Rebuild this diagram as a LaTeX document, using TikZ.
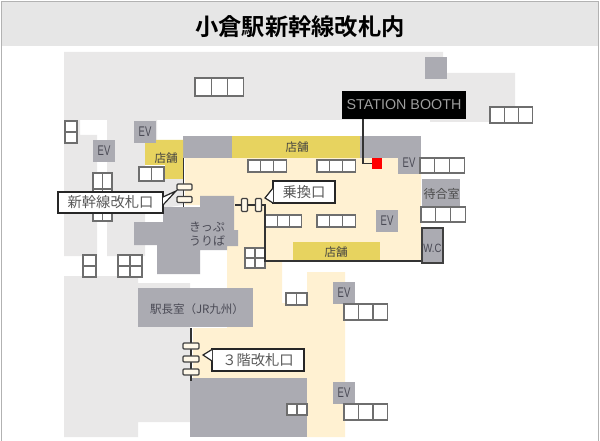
\documentclass[tikz,border=0pt]{standalone}
\usepackage{fontspec}
\setmainfont{Noto Sans CJK JP}[BoldFont={Noto Sans CJK JP Bold}]
\setsansfont{Liberation Sans}
\definecolor{lightg}{HTML}{E9E8E8}
\definecolor{titleg}{HTML}{E6E6E6}
\definecolor{roomg}{HTML}{ABABB2}
\definecolor{creamc}{HTML}{FFF1D2}
\definecolor{shopy}{HTML}{E7D35F}
\definecolor{cellg}{HTML}{6E6E6E}
\definecolor{textg}{HTML}{4A4A55}
\tikzset{
  cell/.style={draw=cellg,line width=1.1pt,fill=white},
  wall/.style={draw=black!80,line width=1.2pt},
  gatebox/.style={draw=black!75,line width=1.2pt,fill=creamc!50!white,minimum width=0pt,minimum height=0pt,inner sep=0pt,rectangle,rounded corners=1pt},
  tag/.style={draw=black!85,line width=1.2pt,fill=white,inner sep=0pt,text=black!65},
  tagtip/.style={draw=black!85,line width=1.2pt,line join=miter},
  roomtxt/.style={text=textg,font=\fontsize{11.5}{12.5}\selectfont,inner sep=0pt,align=center},
  shoptxt/.style={text=black!75,font=\fontsize{11.5}{12.5}\selectfont,inner sep=0pt},
  evtxt/.style={text=textg,font=\sffamily\fontsize{14}{14}\selectfont,inner sep=0pt},
  labtxt/.style={font=\fontsize{14.3}{15}\selectfont},
}
% x, y, cell width, cell height, columns, rows
\newcommand{\cellgrid}[6]{%
  \foreach \cc in {1,...,#5}{\foreach \rr in {1,...,#6}{%
    \draw[cell] ({#1+(\cc-1)*#3},{#2+(\rr-1)*#4}) rectangle ++(#3,#4);}}}
\newcommand{\evbox}[3]{%
  \fill[roomg] (#1,#2) rectangle ++(22,22);
  \node[evtxt] (#3) at ({#1+11},{#2+11}) {\scalebox{.68}[1]{EV}};}
% first base point, tip, second base point: white wedge open on the box side
\newcommand{\tagwedge}[3]{%
  \fill[white] #1 -- #2 -- #3 -- cycle;
  \draw[tagtip] #1 -- #2 -- #3;}
\begin{document}
\begin{tikzpicture}[x=1pt,y=-1pt]
\useasboundingbox (0,0) rectangle (600,441);
\fill[white] (0,0) rectangle (600,441);
% frame + title
\draw[draw=black!30,line width=1pt] (1.5,441) -- (1.5,1.5) -- (598.5,1.5) -- (598.5,441);
\fill[titleg] (2,2) rectangle (598,46);
\node[font=\fontsize{23.3}{25}\selectfont\bfseries,text=black,inner sep=0pt] (title) at (300,27) {小倉駅新幹線改札内};
% light grey concourse
\fill[lightg] (64,52) -- (430,52) -- (443,52) -- (443,73) -- (515,73) -- (515,122) -- (430,122) -- (430,120)
  -- (157,120) -- (157,140) -- (145,140) -- (145,256) -- (107,256) -- (107,120)
  -- (80,120) -- (80,135) -- (97,135) -- (97,256) -- (64,256) -- cycle;
\fill[lightg] (64,276) -- (138,276) -- (138,283) -- (190,283) -- (190,422) -- (138,422) -- (138,437) -- (64,437) -- cycle;
\fill[lightg] (140,181) -- (183,178) -- (183,205) -- (163,208) -- (140,208) -- cycle;
% cream public area
\fill[creamc] (185,158) -- (421,158) -- (421,261) -- (282,261) -- (282,303) -- (307,303) -- (307,272) -- (345,272) -- (345,437)
  -- (307,437) -- (307,378) -- (193,378) -- (193,328) -- (227,328) -- (227,205) -- (185,205) -- cycle;
% rooms
\fill[roomg] (183,136) rectangle (232,158);
\fill[shopy] (232,136) rectangle (360,158);
\fill[roomg] (360,136) rectangle (421,158);
\fill[shopy] (145,140) -- (183,140) -- (183,179) -- (165,179) -- (165,165) -- (145,165) -- cycle;
\fill[shopy] (293,242) rectangle (380,260);
\fill[roomg] (200,196) -- (234,196) -- (234,230) -- (238,230) -- (238,246) -- (227,246) -- (227,250) -- (200,250)
  -- (200,274) -- (157,274) -- (157,245) -- (134,245) -- (134,222) -- (163,222) -- (163,207) -- (200,207) -- cycle;
\fill[roomg] (138,288) rectangle (253,327);
\fill[roomg] (190,378) rectangle (307,437);
\fill[roomg] (425,57) rectangle (447,79);
\fill[roomg] (422,179) rectangle (460,207);
% EV
\evbox{134}{121}{ev1}
\evbox{93}{140}{ev2}
\evbox{398}{152}{ev3}
\evbox{376}{210}{ev4}
\evbox{333}{282}{ev5}
\evbox{333}{382}{ev6}
% cell groups
\cellgrid{195}{78}{16.3}{18}{3}{1}
\cellgrid{490}{107}{14.3}{16}{3}{1}
\cellgrid{420}{158}{14.7}{15}{3}{1}
\cellgrid{421}{207}{14.7}{15}{3}{1}
\cellgrid{248}{160}{12.7}{12}{3}{1}
\cellgrid{317}{160}{12.7}{12}{3}{1}
\cellgrid{265}{215}{12.3}{12}{3}{1}
\cellgrid{317}{215}{12.7}{12}{3}{1}
\cellgrid{139}{167}{12.5}{14}{2}{1}
\cellgrid{65}{121}{12}{11}{1}{2}
\cellgrid{93}{173}{9.5}{16}{2}{3}
\cellgrid{83}{255}{13}{11}{1}{2}
\cellgrid{118}{255}{12}{11}{2}{2}
\cellgrid{245}{248}{10}{10}{2}{2}
\cellgrid{286}{293}{10.5}{12}{2}{1}
\cellgrid{344}{304}{14.5}{16}{3}{1}
\cellgrid{344}{404}{14.5}{16}{3}{1}
\cellgrid{287}{404}{10}{11}{2}{1}
% walls and gates
\coordinate (w1) at (183.5,158);
\coordinate (w2) at (183.5,207);
\coordinate (w3) at (235,205);
\coordinate (w4) at (265,205);
\coordinate (w5) at (265,261);
\coordinate (w6) at (191,328);
\coordinate (w7) at (191,381);
\node[draw=black!75,line width=1.2pt,fill=roomg,inner sep=0pt,minimum width=21pt,minimum height=35pt] (wc) at (432.5,245.5) {};
\node[text=textg,font=\sffamily\fontsize{12}{12}\selectfont,inner sep=0pt] (wct) at (432.5,248) {\scalebox{.8}[1]{W.C}};
\draw[wall] (w1) -- (w2);
\draw[wall] (w3) -- (w4) -- (w5) -- (wc.west |- w5);
\draw[wall] (w6) -- (w7);
\node[gatebox,minimum width=15pt,minimum height=6pt] (g1) at (184.5,187) {};
\node[gatebox,minimum width=15pt,minimum height=6pt] (g2) at (184.5,199.5) {};
\node[gatebox,minimum width=6pt,minimum height=13pt] (g3) at (244.5,205) {};
\node[gatebox,minimum width=6pt,minimum height=13pt] (g4) at (258.5,205) {};
\node[gatebox,minimum width=16pt,minimum height=6pt] (g5) at (191,346) {};
\node[gatebox,minimum width=16pt,minimum height=6pt] (g6) at (191,359) {};
\node[gatebox,minimum width=16pt,minimum height=6pt] (g7) at (191,372) {};
% callouts
\node[tag,labtxt,minimum width=105pt,minimum height=21pt] (lb1) at (110.5,202.5) {新幹線改札口};
\coordinate (p1) at (176,191);
\tagwedge{(163,197)}{(p1)}{(163,205)}
\node[tag,labtxt,minimum width=62pt,minimum height=22pt] (lb2) at (304,192) {乗換口};
\coordinate (p2) at (265,198);
\tagwedge{(273,188)}{(p2)}{(273,203)}
\node[tag,labtxt,minimum width=92pt,minimum height=22pt] (lb3) at (258,360) {３階改札口};
\coordinate (p3) at (203,355);
\tagwedge{(212,349.5)}{(p3)}{(212,361)}
% booth
\node[fill=black,text=black!38,minimum width=124pt,minimum height=28pt,inner sep=0pt,font=\sffamily\fontsize{14.3}{15}\selectfont] (booth) at (404,105) {STATION BOOTH};
\node[fill=red,minimum width=10.5pt,minimum height=11pt,inner sep=0pt] (here) at (377,163.5) {};
\coordinate (bt) at (363,119);
\draw[wall] (bt) |- (here.west);
% room texts
\node[shoptxt] (s1) at (166,158) {店舗};
\node[shoptxt] (s2) at (297,147) {店舗};
\node[shoptxt] (s3) at (336,252) {店舗};
\node[roomtxt,font=\fontsize{12}{14}\selectfont] (t1) at (207,234) {きっぷ\\うりば};
\node[roomtxt] (t2) at (197,309) {駅長室（JR九州）};
\node[roomtxt,text=black!70,font=\fontsize{12}{13}\selectfont] (t3) at (441.5,194) {待合室};
\end{tikzpicture}
\end{document}
